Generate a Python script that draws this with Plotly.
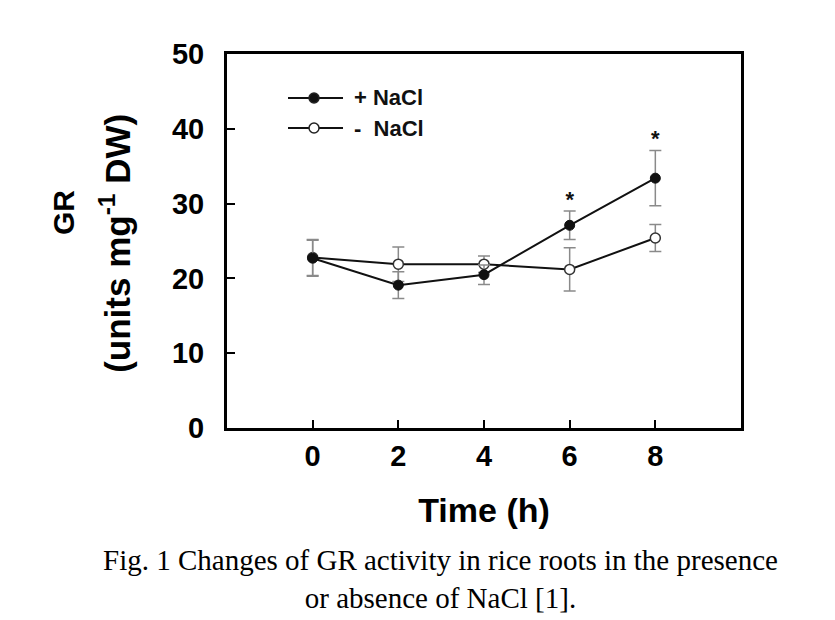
import plotly.graph_objects as go

# time points (h)
time_h = [0, 2, 4, 6, 8]

# GR activity, units mg-1 DW
plus_nacl = [22.7, 19.1, 20.5, 27.1, 33.4]
plus_nacl_err = [2.4, 1.8, 1.3, 1.9, 3.7]
minus_nacl = [22.8, 21.9, 21.9, 21.2, 25.4]
minus_nacl_err = [2.4, 2.3, 1.1, 2.9, 1.8]

# significance marks
star_x = [6, 8]
star_y = [30.3, 38.4]

x_ticks = [0, 2, 4, 6, 8]
y_ticks = [0, 10, 20, 30, 40, 50]

legend_names = ["+ NaCl", "-  NaCl"]
legend_fill = ["#111111", "white"]

sans = "Liberation Sans, Arial, sans-serif"
serif = "Liberation Serif, Times New Roman, serif"
err_color = "#8a8a8a"


def err(values):
    return dict(type="data", array=values, visible=True,
                color=err_color, thickness=1.5, width=6)


fig = go.Figure()

fig.add_trace(go.Scatter(
    x=time_h, y=minus_nacl, name=legend_names[1],
    mode="lines+markers",
    error_y=err(minus_nacl_err),
    line=dict(color="#111111", width=2),
    marker=dict(symbol="circle", size=10, color="white",
                line=dict(color="#333333", width=1.5)),
))
fig.add_trace(go.Scatter(
    x=time_h, y=plus_nacl, name=legend_names[0],
    mode="lines+markers",
    error_y=err(plus_nacl_err),
    line=dict(color="#111111", width=2),
    marker=dict(symbol="circle", size=10, color="#111111",
                line=dict(color="#111111", width=1)),
))
fig.add_trace(go.Scatter(
    x=star_x, y=star_y, mode="text", text=["*"] * len(star_x),
    textfont=dict(family=sans, size=22, color="#111111", weight="bold"),
    hoverinfo="skip",
))

# the html page sits ~7px in from the window corner, so margins are trimmed
fig.update_layout(
    width=835, height=620,
    margin=dict(l=219, r=102, t=46, b=200),
    plot_bgcolor="white", paper_bgcolor="white",
    showlegend=False,
    xaxis=dict(
        range=[-2, 10], tickvals=x_ticks,
        ticks="inside", ticklen=8, tickwidth=2, tickcolor="black",
        showline=True, linecolor="black", linewidth=3, mirror=True,
        showgrid=False, zeroline=False,
        tickfont=dict(family=sans, size=29, color="black", weight="bold"),
        ticklabelstandoff=0,
        title=dict(text="Time (h)", standoff=28,
                   font=dict(family=sans, size=34, color="black", weight="bold")),
    ),
    yaxis=dict(
        range=[0, 50], tickvals=y_ticks,
        ticks="inside", ticklen=8, tickwidth=2, tickcolor="black",
        showline=True, linecolor="black", linewidth=3, mirror=True,
        showgrid=False, zeroline=False,
        tickfont=dict(family=sans, size=29, color="black", weight="bold"),
        ticklabelstandoff=14,
    ),
)

# hand-drawn legend (longer key lines than plotly's own legend)
key_x0, key_x1, key_xm, text_x = 0.1187, 0.2257, 0.1693, 0.2432
key_rows = [0.8824, 0.8021]
rx, ry = 0.0097, 0.0134
for name, fill, ky in zip(legend_names, legend_fill, key_rows):
    fig.add_shape(type="line", xref="paper", yref="paper",
                  x0=key_x0, x1=key_x1, y0=ky, y1=ky,
                  line=dict(color="#111111", width=2))
    fig.add_shape(type="circle", xref="paper", yref="paper",
                  x0=key_xm - rx, x1=key_xm + rx, y0=ky - ry, y1=ky + ry,
                  fillcolor=fill, line=dict(color="#222222", width=1.5))
    fig.add_annotation(text=name, xref="paper", yref="paper",
                       x=text_x, y=ky, xanchor="left", yanchor="middle",
                       showarrow=False,
                       font=dict(family=sans, size=22, color="#111111",
                                 weight="bold"))

fig.add_annotation(
    text="GR", xref="paper", yref="paper", x=-0.317, y=0.575,
    textangle=-90, showarrow=False, xanchor="center", yanchor="middle",
    font=dict(family=sans, size=30, color="black", weight="bold"),
)
fig.add_annotation(
    text="(units mg<sup>-1</sup> DW)", xref="paper", yref="paper",
    x=-0.218, y=0.495,
    textangle=-90, showarrow=False, xanchor="center", yanchor="middle",
    font=dict(family=sans, size=35, color="black", weight="bold"),
)
fig.add_annotation(
    text="Fig. 1 Changes of GR activity in rice roots in the presence"
         "<br>or absence of NaCl [1].",
    xref="paper", yref="paper", x=0.416, y=-0.404,
    showarrow=False, xanchor="center", yanchor="middle",
    font=dict(family=serif, size=29, color="black"),
)

fig.write_html("out.html")
